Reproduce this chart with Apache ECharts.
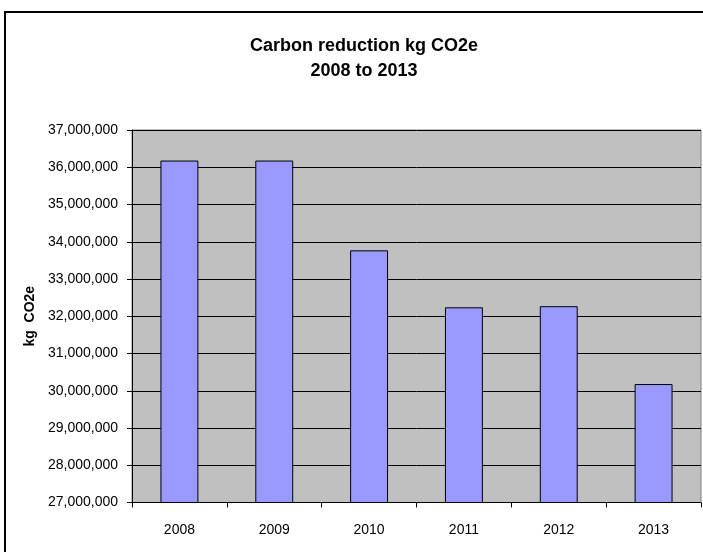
<!DOCTYPE html>
<html>
<head>
<meta charset="utf-8">
<style>
  html, body { margin: 0; padding: 0; background: #ffffff; }
  #chart { width: 703px; height: 552px; }
</style>
<script src="https://cdn.jsdelivr.net/npm/echarts@6/dist/echarts.min.js"></script>
</head>
<body>
<div id="chart"></div>
<script>
// Yearly carbon reduction, kg CO2e
const years = ['2008', '2009', '2010', '2011', '2012', '2013'];
const reductionKg = [36180000, 36180000, 33770000, 32240000, 32270000, 30180000];

const titleLines = ['Carbon reduction kg CO2e', '2008 to 2013'];
const yAxisTitle = 'kg  CO2e';
const yMin = 27000000;
const yMax = 37000000;
const yStep = 1000000;

const FONT = '"Liberation Sans", Arial, sans-serif';

function withCommas(v) {
  return String(Math.round(v)).replace(/\B(?=(\d{3})+(?!\d))/g, ',');
}

const chart = echarts.init(document.getElementById('chart'), null, { renderer: 'canvas' });

chart.setOption({
  backgroundColor: '#ffffff',
  animation: false,
  textStyle: { fontFamily: FONT },
  title: {
    text: titleLines.join('\n'),
    left: 359,
    top: 29,
    textAlign: 'center',
    textStyle: {
      fontFamily: FONT,
      fontSize: 18,
      fontWeight: 'bold',
      color: '#000000',
      lineHeight: 25
    }
  },
  graphic: [
    {
      type: 'rect',
      silent: true,
      z: -1,
      shape: { x: 5, y: 12, width: 702, height: 560 },
      style: { fill: 'transparent', stroke: '#000000', lineWidth: 2 }
    }
  ],
  grid: {
    left: 132,
    top: 130,
    right: 2,
    bottom: 49.5,
    show: true,
    backgroundColor: '#C0C0C0',
    borderColor: '#808080',
    borderWidth: 1
  },
  xAxis: {
    type: 'category',
    data: years,
    boundaryGap: true,
    axisLine: { show: true, lineStyle: { color: '#000000', width: 1 } },
    axisTick: { show: true, alignWithLabel: false, length: 5, lineStyle: { color: '#000000' } },
    axisLabel: { margin: 21, fontSize: 14, fontFamily: FONT, color: '#000000' },
    splitLine: { show: false }
  },
  yAxis: {
    type: 'value',
    min: yMin,
    max: yMax,
    interval: yStep,
    name: yAxisTitle,
    nameLocation: 'middle',
    nameRotate: 90,
    nameGap: 94,
    nameTextStyle: { fontFamily: FONT, fontSize: 14, fontWeight: 'bold', color: '#000000' },
    axisLine: { show: true, lineStyle: { color: '#000000', width: 1 } },
    axisTick: { show: true, length: 5, lineStyle: { color: '#000000' } },
    axisLabel: {
      margin: 14,
      fontSize: 14,
      fontFamily: FONT,
      color: '#000000',
      formatter: withCommas
    },
    splitLine: { show: true, lineStyle: { color: '#000000', width: 1 } }
  },
  series: [
    {
      type: 'bar',
      data: reductionKg,
      barWidth: '40%',
      itemStyle: { color: '#9999FF', borderColor: '#000000', borderWidth: 1 }
    }
  ]
});
</script>
</body>
</html>
